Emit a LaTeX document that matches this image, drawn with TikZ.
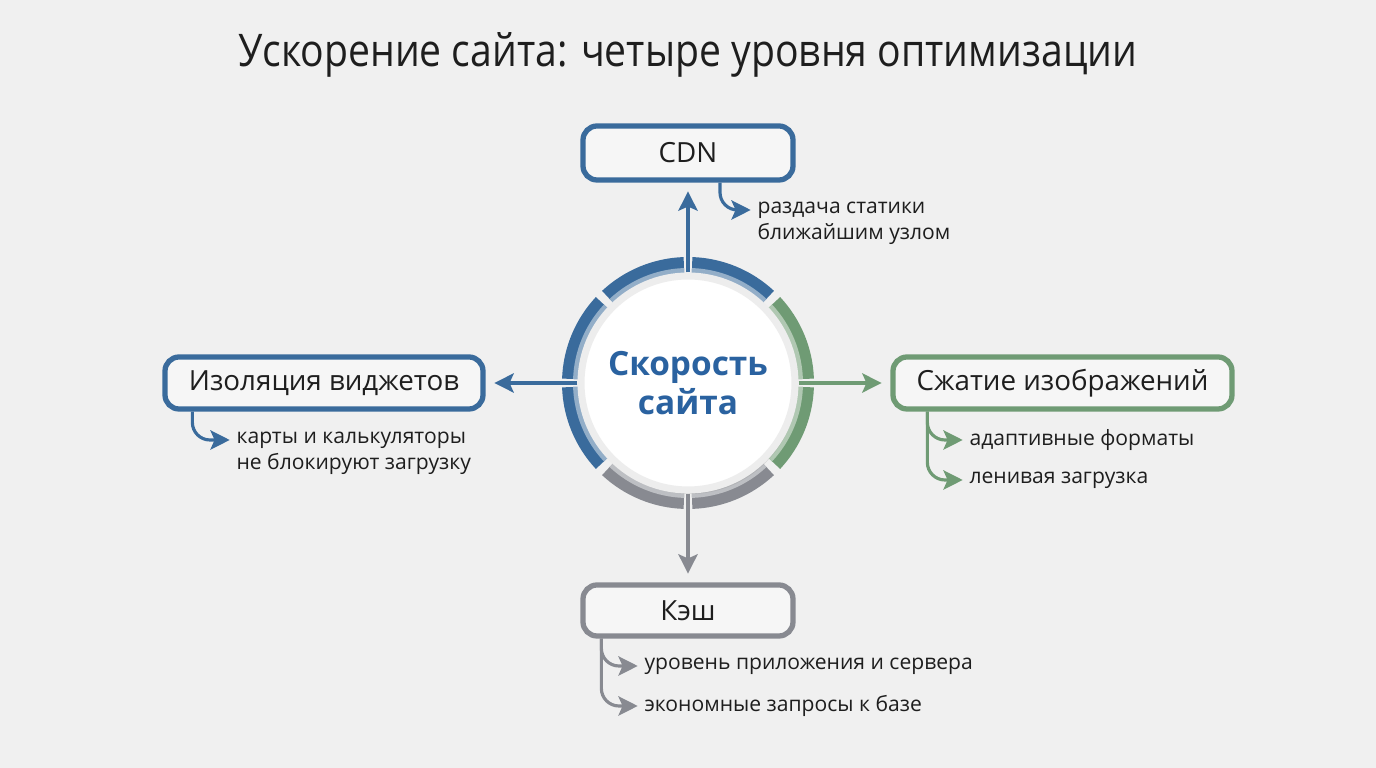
\documentclass[tikz,border=0pt]{standalone}
\usepackage{fontspec}
\setmainfont{Open Sans}
\newfontfamily\titlefont{Open Sans}[FakeStretch=0.87]
\usetikzlibrary{arrows.meta}
\usetikzlibrary{shadows}
\definecolor{paper}{HTML}{F0F0F0}
\definecolor{boxfill}{HTML}{F6F6F6}
\definecolor{ink}{HTML}{1E1E1E}
\definecolor{cdnblue}{HTML}{3A6B9C}
\definecolor{hubblue}{HTML}{2A62A0}
\definecolor{leafgreen}{HTML}{6F9B74}
\definecolor{cachegray}{HTML}{888A91}

\begin{document}
\begin{tikzpicture}[
		>={Stealth[length=5.5pt,width=5.5pt,inset=1.2pt]}, line width=0.9pt,
		level/.style={draw,rounded corners=4pt,line width=1.5pt,fill=boxfill,
			minimum height=0.52cm,inner sep=0pt,text=ink,
			font=\fontsize{7.9}{10}\selectfont}, % one box per level
		note/.style={anchor=west,align=left,inner sep=0pt,text=ink,
			font=\fontsize{6}{7.4}\selectfont}, % small text under a box
		twig/.style={->,rounded corners=5pt,shorten >=1.5pt}, % box -> note
		link/.style={->,shorten >=2.5pt}, % hub -> box
	]
	\fill[paper] (0,0) rectangle (13.76,7.68);
	\useasboundingbox (0,0) rectangle (13.76,7.68);

	% --- title
	\node[text=ink,font=\titlefont\fontsize{12.8}{15}\selectfont] (title) at (6.88,7.13)
	{Ускорение сайта: четыре уровня оптимизации};

	% --- ring of eight segments round the hub
	\coordinate (c) at (6.88,3.85);
	\begin{scope}[shift={(c)}]
		\foreach \a/\col in {0/leafgreen, 45/cdnblue, 90/cdnblue, 135/cdnblue,
				180/cdnblue, 225/cachegray, 270/cachegray, 315/leafgreen}{
				\fill[\col] (\a+2:1.26) arc[start angle=\a+2,end angle=\a+43,radius=1.26]
				-- (\a+43:1.08) arc[start angle=\a+43,end angle=\a+2,radius=1.08] -- cycle;
				\fill[\col!55!white] (\a+2:1.15) arc[start angle=\a+2,end angle=\a+43,radius=1.15]
				-- (\a+43:1.08) arc[start angle=\a+43,end angle=\a+2,radius=1.08] -- cycle;
			}
	\end{scope}
	\node[circle,minimum size=2.14cm,inner sep=0pt,fill=white,draw=black!7,line width=2pt,
		drop shadow={opacity=0.2,shadow xshift=0.02,shadow yshift=-0.04},
		align=center,text=hubblue,font=\bfseries\fontsize{9.5}{11.3}\selectfont]
	(hub) at (c) {Скорость\\сайта};

	% --- the four levels
	\node[level,draw=cdnblue,minimum width=2.1cm,minimum height=0.54cm] (cdn) at (6.88,6.15) {CDN};
	\node[level,draw=cdnblue,minimum width=3.18cm] (iso) at (3.24,3.85) {Изоляция виджетов};
	\node[level,draw=leafgreen,minimum width=3.39cm] (img) at (10.625,3.85) {Сжатие изображений};
	\node[level,draw=cachegray,minimum width=2.1cm,minimum height=0.51cm] (cache) at (6.88,1.575) {Кэш};

	\draw[link,cdnblue] (hub.north) -- (cdn.south);
	\draw[link,cdnblue] (hub.west) -- (iso.east);
	\draw[link,leafgreen] (hub.east) -- (img.west);
	\draw[link,cachegray] (hub.south) -- (cache.north);

	% --- notes under the boxes
	\node[note] (cdnnote) at (7.56,5.45) {раздача статики\\ближайшим узлом};
	\node[note] (isonote) at (2.35,3.15) {карты и калькуляторы\\не блокируют загрузку};
	\node[note] (fmt) at (9.68,3.28) {адаптивные форматы};
	\node[note] (lazy) at (9.68,2.88) {ленивая загрузка};
	\node[note] (tier) at (6.43,1.02) {уровень приложения и сервера};
	\node[note] (query) at (6.43,0.62) {экономные запросы к базе};

	\draw[twig,cdnblue] ([xshift=0.32cm]cdn.south) |- ([yshift=0.13cm]cdnnote.west);
	\draw[twig,cdnblue] ([xshift=0.30cm]iso.south west) |- ([yshift=0.13cm]isonote.west);
	\draw[twig,leafgreen] ([xshift=0.37cm]img.south west) |- (fmt.west);
	\draw[twig,leafgreen] ([xshift=0.37cm]img.south west) |- (lazy.west);
	\draw[twig,cachegray] ([xshift=0.21cm]cache.south west) |- (tier.west);
	\draw[twig,cachegray] ([xshift=0.21cm]cache.south west) |- (query.west);
\end{tikzpicture}
\end{document}
